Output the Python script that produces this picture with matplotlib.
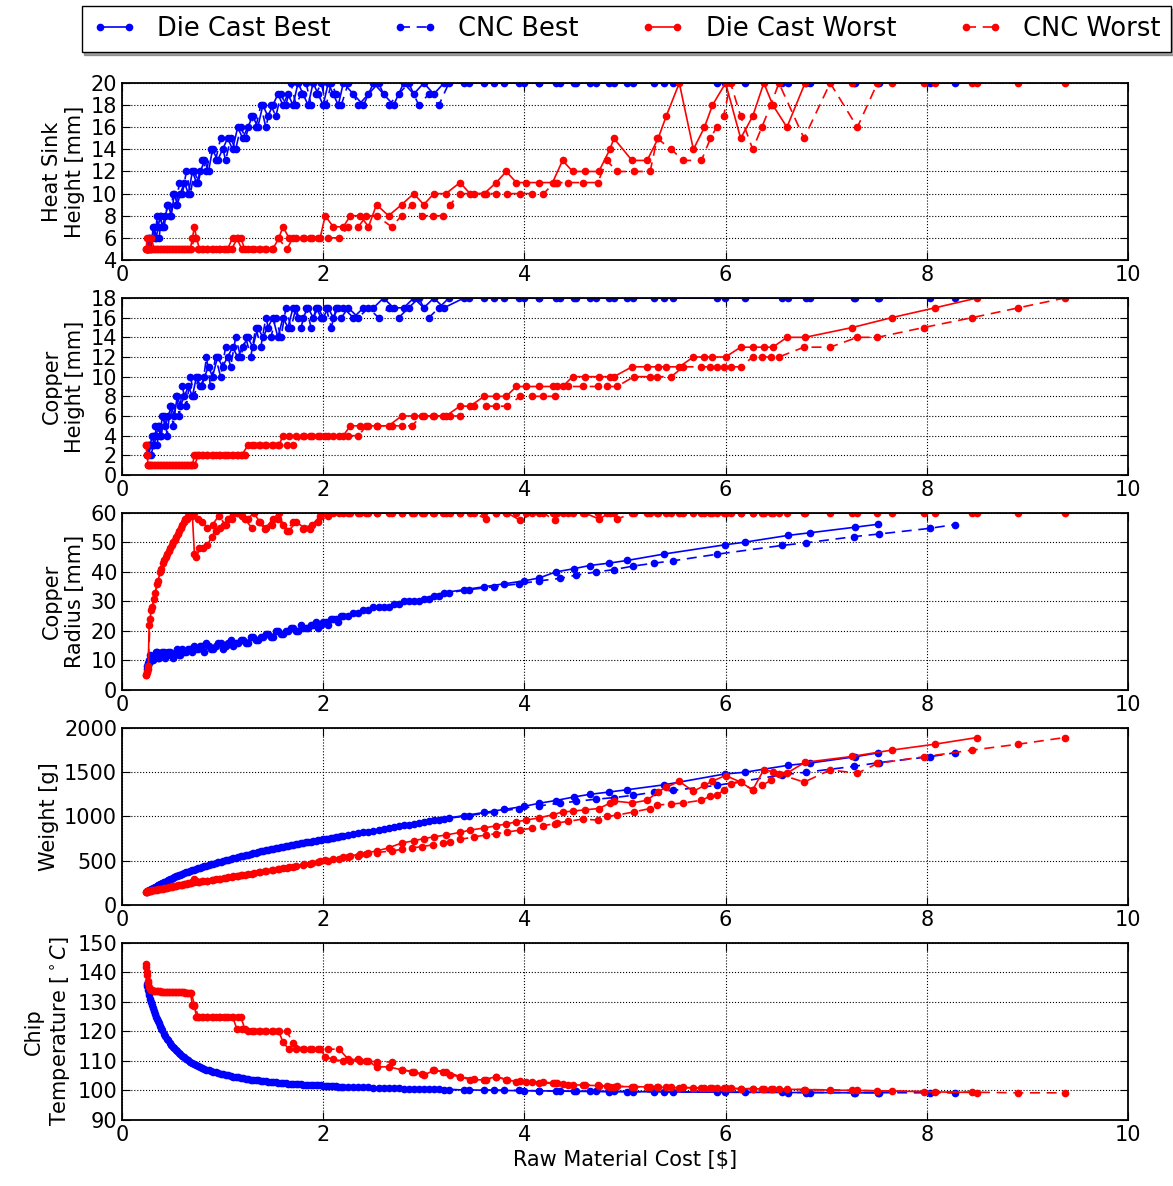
import matplotlib
matplotlib.use("Agg")
from matplotlib import pyplot as plt

plt.rcParams['font.family'] = 'DejaVu Sans'
plt.rcParams['mathtext.fontset'] = 'dejavusans'

# Die Cast Best
dcb_cost = [0.25, 0.26, 0.27, 0.28, 0.30, 0.32, 0.34, 0.36, 0.38, 0.40,
            0.43, 0.46, 0.49, 0.52, 0.55, 0.58, 0.62, 0.66, 0.70, 0.74,
            0.78, 0.82, 0.86, 0.90, 0.95, 1.00, 1.05, 1.10, 1.15, 1.20,
            1.25, 1.30, 1.35, 1.40, 1.45, 1.50, 1.55, 1.60, 1.65, 1.70,
            1.75, 1.80, 1.85, 1.90, 1.95, 2.00, 2.05, 2.10, 2.15, 2.20,
            2.30, 2.40, 2.50, 2.60, 2.70, 2.80, 2.90, 3.00, 3.10, 3.20,
            3.40, 3.60, 3.80, 4.00, 4.15, 4.31, 4.49, 4.65, 4.84, 5.02,
            5.39, 5.99, 6.19, 6.62, 6.84, 7.29, 7.52]
dcb_hs = [5, 5, 6, 5, 6, 7, 6, 7, 8, 7,
          8, 9, 8, 10, 9, 10, 11, 10, 12, 11,
          12, 13, 12, 14, 13, 14, 15, 14, 16, 15,
          16, 17, 16, 18, 17, 18, 19, 18, 19, 18,
          20, 19, 18, 20, 19, 18, 20, 19, 18, 20,
          19, 18, 20, 19, 18, 20, 19, 20, 19, 20,
          20, 20, 20, 20, 20, 20, 20, 20, 20, 20,
          20, 20, 20, 20, 20, 20, 20]
dcb_ch = [2, 3, 2, 3, 4, 3, 4, 5, 4, 6,
          5, 6, 7, 6, 8, 7, 8, 9, 8, 10,
          9, 10, 11, 10, 12, 11, 12, 13, 12, 13,
          14, 13, 15, 14, 15, 16, 14, 16, 15, 17,
          16, 16, 17, 16, 17, 16, 17, 16, 17, 17,
          16, 17, 17, 18, 17, 17, 18, 17, 18, 17,
          18, 18, 18, 18, 18, 18, 18, 18, 18, 18,
          18, 18, 18, 18, 18, 18, 18]
dcb_r = [7, 9, 10, 12, 10, 12, 13, 11, 12, 13,
         11, 13, 12, 12, 14, 12, 13, 14, 13, 14,
         15, 13, 15, 14, 16, 14, 16, 15, 16, 17,
         16, 18, 17, 18, 19, 18, 20, 19, 20, 21,
         20, 21, 21, 22, 21, 23, 22, 24, 23, 25,
         26, 27, 28, 28, 29, 30, 30, 31, 32, 33,
         34, 35, 36, 37, 38, 40.0, 41.1, 42.2, 43.0, 43.9,
         46.1, 49.2, 50.1, 52.4, 53.3, 55.2, 56.2]
dcb_w = [150, 158, 165, 172, 185, 196, 208, 220, 232, 245,
         262, 280, 296, 312, 328, 343, 360, 377, 392, 407,
         422, 437, 451, 465, 481, 496, 511, 526, 541, 556,
         570, 584, 598, 611, 623, 636, 648, 660, 671, 682,
         692, 702, 712, 722, 731, 741, 751, 761, 771, 781,
         800, 820, 840, 860, 879, 898, 917, 936, 955, 975,
         1010, 1045, 1080, 1115, 1150, 1180, 1220, 1250, 1276, 1302,
         1358, 1480, 1500, 1578, 1604, 1675, 1720]
dcb_t = [136.0, 134.0, 132.5, 131.0, 129.0, 127.0, 125.0, 123.5, 122.0, 120.5,
         118.5, 117.0, 115.5, 114.5, 113.3, 112.3, 111.2, 110.2, 109.3, 108.6,
         108.0, 107.4, 106.9, 106.4, 105.9, 105.5, 105.1, 104.7, 104.4, 104.1,
         103.8, 103.6, 103.4, 103.2, 103.0, 102.8, 102.6, 102.5, 102.3, 102.2,
         102.1, 102.0, 101.9, 101.8, 101.7, 101.6, 101.5, 101.4, 101.3, 101.2,
         101.1, 101.0, 100.9, 100.8, 100.7, 100.6, 100.5, 100.4, 100.35, 100.3,
         100.2, 100.1, 100.0, 99.9, 99.85, 99.8, 99.7, 99.7, 99.6, 99.6,
         99.5, 99.4, 99.4, 99.3, 99.3, 99.2, 99.2]

# CNC Best
cb_cost = [0.25, 0.27, 0.29, 0.31, 0.33, 0.35, 0.37, 0.39, 0.42, 0.45,
           0.48, 0.51, 0.54, 0.57, 0.60, 0.64, 0.68, 0.72, 0.76, 0.80,
           0.84, 0.88, 0.93, 0.98, 1.03, 1.08, 1.13, 1.18, 1.23, 1.28,
           1.33, 1.38, 1.43, 1.48, 1.53, 1.58, 1.63, 1.68, 1.73, 1.78,
           1.83, 1.88, 1.93, 1.98, 2.03, 2.08, 2.13, 2.18, 2.25, 2.35,
           2.45, 2.55, 2.65, 2.75, 2.85, 2.95, 3.05, 3.15, 3.25,
           3.45, 3.70, 3.95, 4.15, 4.35, 4.51, 4.71, 4.89, 5.08, 5.29,
           5.48, 5.91, 6.56, 6.80, 7.28, 7.53, 8.03, 8.28]
cb_hs = [5, 6, 5, 7, 6, 8, 6, 8, 7, 9,
         8, 10, 9, 11, 10, 12, 10, 12, 11, 13,
         12, 14, 13, 15, 13, 15, 14, 16, 15, 17,
         16, 18, 16, 18, 17, 19, 18, 20, 18, 19,
         20, 18, 19, 20, 18, 20, 19, 18, 20, 18,
         19, 20, 18, 19, 20, 18, 19, 18, 20,
         20, 20, 20, 20, 20, 20, 20, 20, 20, 20,
         20, 20, 20, 20, 20, 20, 20, 20]
cb_ch = [2, 3, 2, 3, 5, 3, 5, 4, 6, 4,
         7, 5, 8, 6, 9, 7, 10, 8, 10, 9,
         12, 9, 12, 10, 13, 11, 14, 12, 14, 12,
         15, 13, 16, 14, 16, 14, 17, 15, 17, 15,
         17, 15, 17, 16, 17, 15, 17, 16, 17, 16,
         17, 16, 17, 16, 17, 18, 16, 17, 18,
         18, 18, 18, 18, 18, 18, 18, 18, 18, 18,
         18, 18, 18, 18, 18, 18, 18, 18]
cb_r = [8, 9, 11, 10, 12, 13, 11, 12, 13, 12,
        13, 11, 13, 12, 14, 13, 14, 15, 14, 15,
        16, 14, 15, 16, 15, 17, 16, 17, 16, 18,
        17, 18, 19, 18, 20, 19, 20, 21, 20, 22,
        21, 22, 23, 22, 23, 24, 24, 25, 25, 26,
        27, 28, 28, 29, 30, 30, 31, 32, 33,
        34, 35, 36, 37, 37.8, 38.9, 40.0, 40.8, 42.0, 43.0,
        43.8, 46.0, 49.0, 49.9, 52.0, 52.9, 54.8, 56.1]
cb_w = [152, 162, 176, 190, 203, 214, 226, 238, 256, 273,
        290, 306, 322, 338, 352, 369, 385, 400, 415, 430,
        444, 458, 474, 490, 505, 520, 535, 550, 564, 578,
        592, 605, 618, 631, 643, 655, 666, 677, 687, 697,
        707, 717, 727, 736, 746, 756, 766, 776, 790, 810,
        830, 850, 869, 888, 907, 926, 944, 962, 980,
        1010, 1050, 1090, 1120, 1150, 1170, 1195, 1213, 1239, 1276,
        1295, 1351, 1470, 1500, 1567, 1610, 1675, 1720]
cb_t = [135.5, 133.0, 130.0, 128.0, 126.0, 124.3, 122.8, 121.3, 119.2, 117.5,
        116.0, 114.8, 113.6, 112.6, 111.7, 110.7, 109.8, 109.0, 108.3, 107.7,
        107.1, 106.6, 106.1, 105.7, 105.3, 104.9, 104.5, 104.2, 103.9, 103.7,
        103.5, 103.3, 103.1, 102.9, 102.7, 102.5, 102.4, 102.3, 102.2, 102.1,
        102.0, 101.9, 101.8, 101.7, 101.6, 101.5, 101.4, 101.3, 101.2, 101.1,
        101.0, 100.9, 100.8, 100.7, 100.6, 100.5, 100.4, 100.35, 100.3,
        100.2, 100.1, 100.0, 99.9, 99.8, 99.75, 99.7, 99.65, 99.6, 99.55,
        99.5, 99.4, 99.35, 99.3, 99.3, 99.25, 99.2, 99.2]

# Die Cast Worst
dcw_cost = [0.24, 0.25, 0.26, 0.27, 0.29, 0.32, 0.35, 0.38, 0.41, 0.44,
            0.47, 0.50, 0.53, 0.56, 0.59, 0.62, 0.65, 0.68, 0.70, 0.72,
            0.74, 0.77, 0.81, 0.85, 0.89, 0.93, 0.97, 1.01, 1.05, 1.10,
            1.14, 1.19, 1.25, 1.31, 1.37, 1.43, 1.50, 1.56, 1.60, 1.66,
            1.73, 1.81, 1.89, 1.97, 2.02, 2.10, 2.20, 2.27, 2.37, 2.45,
            2.53, 2.65, 2.78, 2.90, 3.00, 3.10, 3.22, 3.36, 3.46, 3.60,
            3.72, 3.82, 3.92, 4.02, 4.15, 4.28, 4.38, 4.48, 4.60, 4.74,
            4.85, 4.89, 5.07, 5.22, 5.33, 5.41, 5.54, 5.68, 5.79, 5.87,
            6.00, 6.15, 6.27, 6.38, 6.47, 6.61, 6.79, 7.26, 7.65, 8.08,
            8.50]
dcw_hs = [5, 6, 5, 5, 6, 5, 5, 5, 5, 5,
          5, 5, 5, 5, 5, 5, 5, 5, 6, 7,
          6, 5, 5, 5, 5, 5, 5, 5, 5, 6,
          6, 5, 5, 5, 5, 5, 5, 6, 7, 6,
          6, 6, 6, 6, 8, 7, 7, 8, 8, 7,
          9, 8, 9, 10, 9, 10, 10, 11, 10, 10,
          11, 12, 11, 11, 11, 11, 13, 12, 12, 12,
          14, 15, 13, 13, 15, 17, 20, 14, 16, 18,
          20, 15, 17, 20, 18, 16, 20, 20, 20, 20,
          20]
dcw_ch = [3, 2, 1, 1, 1, 1, 1, 1, 1, 1,
          1, 1, 1, 1, 1, 1, 1, 1, 1, 2,
          2, 2, 2, 2, 2, 2, 2, 2, 2, 2,
          2, 2, 3, 3, 3, 3, 3, 3, 4, 4,
          4, 4, 4, 4, 4, 4, 4, 5, 5, 5,
          5, 5, 6, 6, 6, 6, 6, 7, 7, 8,
          8, 8, 9, 9, 9, 9, 9, 10, 10, 10,
          10, 10, 11, 11, 11, 11, 11, 12, 12, 12,
          12, 13, 13, 13, 13, 14, 14, 15, 16, 17,
          18]
dcw_r = [5, 6, 7, 22, 27, 31, 36, 40, 43, 45,
         47, 49, 51, 53, 55, 57, 58, 60, 59, 46,
         45, 48, 48, 49, 52, 54, 55, 56, 58, 60,
         60, 59, 58, 60, 57, 55, 58, 60, 56, 54,
         57, 55, 56, 59, 60, 60, 60, 60, 60, 60,
         60, 60, 60, 60, 60, 60, 60, 60, 60, 60,
         60, 60, 60, 60, 60, 60, 60, 60, 60, 58,
         60, 60, 60, 60, 60, 60, 60, 60, 60, 60,
         60, 60, 60, 60, 60, 60, 60, 60, 60, 60,
         60]
dcw_w = [150, 152, 155, 158, 162, 167, 173, 179, 185, 192,
         199, 206, 213, 220, 227, 234, 241, 248, 265, 292,
         268, 260, 266, 273, 280, 288, 296, 304, 312, 322,
         331, 340, 351, 362, 373, 384, 397, 408, 418, 430,
         444, 460, 476, 492, 505, 520, 540, 555, 575, 592,
         610, 645, 700, 725, 750, 770, 790, 820, 846, 870,
         895, 915, 940, 960, 985, 1020, 1050, 1060, 1075, 1090,
         1150, 1175, 1153, 1183, 1280, 1330, 1396, 1284, 1351, 1400,
         1463, 1388, 1300, 1530, 1505, 1490, 1612, 1679, 1750, 1817,
         1892]
dcw_t = [143.0, 140.0, 137.0, 135.0, 134.0, 133.8, 133.7, 133.6, 133.5, 133.5,
         133.4, 133.4, 133.4, 133.3, 133.3, 133.3, 133.2, 133.0, 129.0, 128.8,
         125.0, 125.0, 125.0, 125.0, 125.0, 125.0, 125.0, 125.0, 125.0, 125.0,
         121.0, 121.0, 120.0, 120.0, 120.0, 120.0, 120.0, 120.0, 116.3, 114.0,
         114.0, 114.0, 114.0, 114.0, 111.5, 110.5, 110.0, 110.0, 110.0, 110.0,
         108.0, 108.0, 107.0, 106.4, 105.2, 106.8, 106.4, 104.7, 103.6, 103.6,
         104.7, 103.6, 103.0, 102.8, 102.6, 102.4, 102.2, 101.9, 101.8, 101.6,
         101.3, 101.3, 101.3, 101.2, 101.1, 101.0, 100.9, 100.9, 100.8, 100.8,
         100.7, 100.6, 100.6, 100.5, 100.5, 100.4, 100.3, 100.0, 99.8, 99.5,
         99.3]

# CNC Worst
cw_cost = [0.24, 0.25, 0.26, 0.28, 0.30, 0.33, 0.36, 0.39, 0.42, 0.45,
           0.48, 0.51, 0.54, 0.57, 0.60, 0.63, 0.66, 0.69, 0.72, 0.76,
           0.80, 0.85, 0.90, 0.96, 1.03, 1.09, 1.15, 1.18, 1.22, 1.29,
           1.36, 1.42, 1.49, 1.55, 1.64, 1.70, 1.80, 1.87, 1.95, 2.05,
           2.16, 2.25, 2.35, 2.43, 2.53, 2.68, 2.78, 2.88, 2.98, 3.09,
           3.19, 3.26, 3.36, 3.50, 3.62, 3.72, 3.83, 3.96, 4.08, 4.19,
           4.30, 4.32, 4.43, 4.58, 4.73, 4.82, 4.92, 5.09, 5.25, 5.32,
           5.46, 5.58, 5.76, 5.85, 5.91, 5.98, 6.05, 6.15, 6.27, 6.36,
           6.45, 6.53, 6.78, 7.04, 7.31, 7.51, 7.97, 8.45, 8.91, 9.37]
cw_hs = [5, 5, 5, 5, 5, 5, 5, 5, 5, 5,
         5, 5, 5, 5, 5, 5, 5, 5, 6, 5,
         5, 5, 5, 5, 5, 5, 6, 6, 5, 5,
         5, 5, 5, 6, 5, 6, 6, 6, 6, 6,
         6, 7, 7, 8, 8, 7, 8, 9, 8, 8,
         8, 9, 10, 10, 10, 10, 10, 10, 10, 10,
         11, 11, 11, 11, 11, 13, 12, 12, 12, 15,
         14, 13, 13, 15, 16, 17, 20, 17, 14, 16,
         18, 20, 15, 20, 16, 20, 20, 20, 20, 20]
cw_ch = [3, 2, 1, 1, 1, 1, 1, 1, 1, 1,
         1, 1, 1, 1, 1, 1, 1, 1, 1, 2,
         2, 2, 2, 2, 2, 2, 2, 2, 2, 3,
         3, 3, 3, 3, 3, 3, 4, 4, 4, 4,
         4, 4, 4, 5, 5, 5, 5, 5, 6, 6,
         6, 6, 6, 7, 7, 7, 7, 8, 8, 8,
         8, 9, 9, 9, 9, 9, 9, 10, 10, 10,
         10, 11, 11, 11, 11, 11, 11, 11, 12, 12,
         12, 12, 13, 13, 14, 14, 15, 16, 17, 18]
cw_r = [5, 6, 8, 24, 28, 33, 37, 41, 44, 46,
        48, 50, 52, 54, 56, 58, 59, 60, 60, 58,
        57, 55, 56, 59, 56, 58, 60, 60, 58, 55,
        57, 54.5, 56, 58, 54, 57, 54.5, 54.5, 57, 59,
        60, 60, 60, 60, 60, 60, 60, 60, 60, 60,
        60, 60, 60, 60, 58, 60, 60, 57.5, 60, 60,
        57.5, 60, 60, 60, 60, 60, 58, 60, 60, 60,
        60, 60, 60, 60, 60, 60, 60, 60, 60, 60,
        60, 60, 60, 60, 60, 60, 60, 60, 60, 60]
cw_w = [150, 151, 154, 160, 164, 170, 176, 182, 189, 196,
        203, 210, 217, 224, 231, 238, 245, 252, 258, 262,
        268, 275, 283, 292, 305, 316, 328, 334, 342, 355,
        368, 380, 393, 405, 422, 434, 452, 466, 482, 500,
        520, 538, 556, 572, 592, 610, 628, 645, 658, 680,
        700, 715, 740, 770, 790, 805, 825, 846, 870, 895,
        920, 925, 945, 970, 959, 1000, 1015, 1052, 1090, 1130,
        1140, 1153, 1183, 1230, 1239, 1295, 1370, 1388, 1300, 1351,
        1407, 1481, 1388, 1526, 1489, 1600, 1675, 1750, 1817, 1892]
cw_t = [142.0, 139.0, 136.5, 134.5, 133.9, 133.7, 133.6, 133.5, 133.5, 133.4,
        133.4, 133.4, 133.3, 133.3, 133.3, 133.2, 133.2, 133.0, 129.0, 125.0,
        125.0, 125.0, 125.0, 125.0, 125.0, 125.0, 125.0, 125.0, 121.0, 120.0,
        120.0, 120.0, 120.0, 120.0, 120.0, 116.0, 114.0, 114.0, 114.0, 114.0,
        114.0, 110.5, 110.5, 110.0, 109.7, 109.7, 107.0, 106.4, 105.5, 106.8,
        106.4, 105.2, 104.7, 103.8, 103.6, 104.7, 103.6, 103.2, 103.0, 102.8,
        102.5, 102.4, 102.0, 101.9, 101.7, 101.5, 101.4, 101.3, 101.2, 101.1,
        101.0, 101.0, 100.9, 100.8, 100.8, 100.7, 100.7, 100.6, 100.6, 100.5,
        100.5, 100.4, 100.3, 100.2, 100.0, 99.9, 99.6, 99.4, 99.2, 99.2]

ylabels = ["Heat Sink\nHeight [mm]", "Copper\nHeight [mm]", "Copper\nRadius [mm]",
           "Weight [g]", "Chip\nTemperature [$^\\circ C$]"]
ylims = [(4, 20), (0, 18), (0, 60), (0, 2000), (90, 150)]
ysteps = [2, 2, 10, 500, 10]

series = [
    (dcb_cost, [dcb_hs, dcb_ch, dcb_r, dcb_w, dcb_t], 'blue', '-', "Die Cast Best"),
    (cb_cost, [cb_hs, cb_ch, cb_r, cb_w, cb_t], 'blue', (0, (6, 4)), "CNC Best"),
    (dcw_cost, [dcw_hs, dcw_ch, dcw_r, dcw_w, dcw_t], 'red', '-', "Die Cast Worst"),
    (cw_cost, [cw_hs, cw_ch, cw_r, cw_w, cw_t], 'red', (0, (6, 4)), "CNC Worst"),
]

fig, axes = plt.subplots(5, 1, figsize=(11.73, 11.86), dpi=100)
fig.subplots_adjust(left=0.104, right=0.9616, top=0.930, bottom=0.0557, hspace=0.215)

for cost, ys, color, ls, label in series:
    for ax, y in zip(axes, ys):
        ax.plot(cost, y, color=color, linestyle=ls, marker='.', markersize=9,
                linewidth=1.2, label=label)

for i, ax in enumerate(axes):
    lo, hi = ylims[i]
    ax.set_xlim(0, 10)
    ax.set_ylim(lo, hi)
    ax.set_xticks(range(0, 11, 2))
    ax.set_yticks(range(lo, hi + 1, ysteps[i]))
    ax.grid(True, color='k', linestyle=':', linewidth=0.8)
    ax.tick_params(direction='in', top=True, right=True, length=6, labelsize=15)
    for sp in ax.spines.values():
        sp.set_linewidth(1.3)
    ax.set_ylabel(ylabels[i], fontsize=15)

axes[-1].set_xlabel("Raw Material Cost [\\$]", fontsize=15)

handles, labels = axes[0].get_legend_handles_labels()
fig.legend(handles, labels, loc='upper center', bbox_to_anchor=(0.534, 1.006),
           ncol=4, fontsize=18.5, numpoints=2, handlelength=1.75, columnspacing=2.4,
           shadow=True, fancybox=False, edgecolor='k', framealpha=1)

fig.savefig("out.png", dpi=100)
